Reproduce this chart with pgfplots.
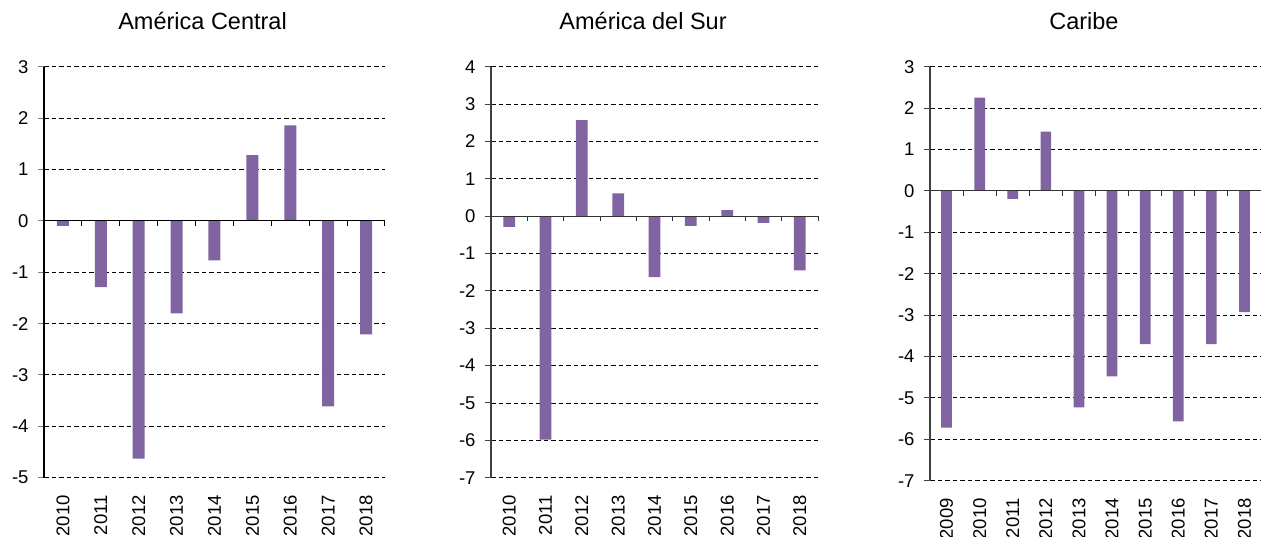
\documentclass[border=0pt]{standalone}
\usepackage{fontspec}
\setmainfont{Liberation Sans}
\usepackage{pgfplots}
\usepackage{pgfplotstable}
\pgfplotsset{compat=1.18}
\definecolor{barpurple}{RGB}{128,100,162}

\pgfplotstableread{
x v
0 -0.10
1 -1.29
2 -4.63
3 -1.80
4 -0.77
5 1.28
6 1.86
7 -3.61
8 -2.21
}\tcentral
\pgfplotstableread{
x v
0 -0.29
1 -5.98
2 2.57
3 0.61
4 -1.63
5 -0.26
6 0.16
7 -0.18
8 -1.45
}\tsur
\pgfplotstableread{
x v
0 -5.72
1 2.25
2 -0.19
3 1.43
4 -5.23
5 -4.48
6 -3.70
7 -5.57
8 -3.70
9 -2.93
}\tcaribe

\pgfplotsset{
  panel/.style={
    anchor=south west, scale only axis,
    axis x line=bottom, axis y line=left, axis line style={-},
    x axis line style={draw=none},
    y axis line style={line width=1.1pt},
    major x tick style={draw=none},
    tick align=outside,
    major tick length=6pt,
    ytick style={line width=1pt},
    ymajorgrids,
    grid style={black, line width=0.9pt, dash pattern=on 4.5pt off 3pt},
    xtick=data,
    every tick label/.style={font=\fontsize{18.5}{20}\selectfont},
    xticklabel style={rotate=90, anchor=east},
    xticklabel shift=8pt,
    yticklabel style={xshift=-6pt},
    every axis title/.style={at={(0.465,1)}, anchor=base, yshift=37.5pt,
      font=\fontsize{23.5}{26}\selectfont},
    clip=false,
  },
  purplebar/.style={ybar, bar width=#1, bar shift=0pt, fill=barpurple, draw=none},
}

\begin{document}
\begin{tikzpicture}
\useasboundingbox (0,0) rectangle (1262pt,537pt);

% America Central
\begin{axis}[panel,
  at={(44pt,59.3pt)}, width=341pt, height=411pt,
  xmin=-0.5, xmax=8.5, ymin=-5, ymax=3,
  ytick={-5,-4,-3,-2,-1,0,1,2,3},
  yticklabels={-5,-4,-3,-2,-1,0,1,2,3},
  xticklabels={2010,2011,2012,2013,2014,2015,2016,2017,2018},
  title={América Central},
]
\addplot[purplebar=12pt] table[x=x,y=v] {\tcentral};
\draw[black, line width=1pt] (axis cs:-0.5,0) -- (axis cs:8.5,0);
\pgfplotsinvokeforeach{0.5,1.5,2.5,3.5,4.5,5.5,6.5,7.5,8.5}{
  \draw[black, line width=1pt] (axis cs:#1,0) -- ([yshift=-5pt]axis cs:#1,0);
}
\end{axis}

% America del Sur
\begin{axis}[panel,
  at={(491pt,59.3pt)}, width=327pt, height=411pt,
  xmin=-0.5, xmax=8.5, ymin=-7, ymax=4,
  ytick={-7,-6,-5,-4,-3,-2,-1,0,1,2,3,4},
  yticklabels={-7,-6,-5,-4,-3,-2,-1,0,1,2,3,4},
  y axis line style={black!75},
  ytick style={black!75},
  xticklabels={2010,2011,2012,2013,2014,2015,2016,2017,2018},
  title={América del Sur},
]
\addplot[purplebar=11.7pt] table[x=x,y=v] {\tsur};
\draw[black!80, line width=1pt] (axis cs:-0.5,0) -- (axis cs:8.5,0);
\pgfplotsinvokeforeach{0.5,1.5,2.5,3.5,4.5,5.5,6.5,7.5,8.5}{
  \draw[black!80, line width=1pt] (axis cs:#1,0) -- ([yshift=-5pt]axis cs:#1,0);
}
\end{axis}

% Caribe
\begin{axis}[panel,
  at={(930pt,56.3pt)}, width=331pt, height=414pt,
  xmin=-0.5, xmax=9.5, ymin=-7, ymax=3,
  ytick={-7,-6,-5,-4,-3,-2,-1,0,1,2,3},
  yticklabels={-7,-6,-5,-4,-3,-2,-1,0,1,2,3},
  y axis line style={black!75},
  ytick style={black!75},
  xticklabels={2009,2010,2011,2012,2013,2014,2015,2016,2017,2018},
  title={Caribe},
]
\addplot[purplebar=10.7pt] table[x=x,y=v] {\tcaribe};
\draw[black!80, line width=1pt] (axis cs:-0.5,0) -- (axis cs:9.5,0);
\pgfplotsinvokeforeach{0.5,1.5,2.5,3.5,4.5,5.5,6.5,7.5,8.5}{
  \draw[black!80, line width=1pt] (axis cs:#1,0) -- ([yshift=-5pt]axis cs:#1,0);
}
\end{axis}
\end{tikzpicture}
\end{document}
